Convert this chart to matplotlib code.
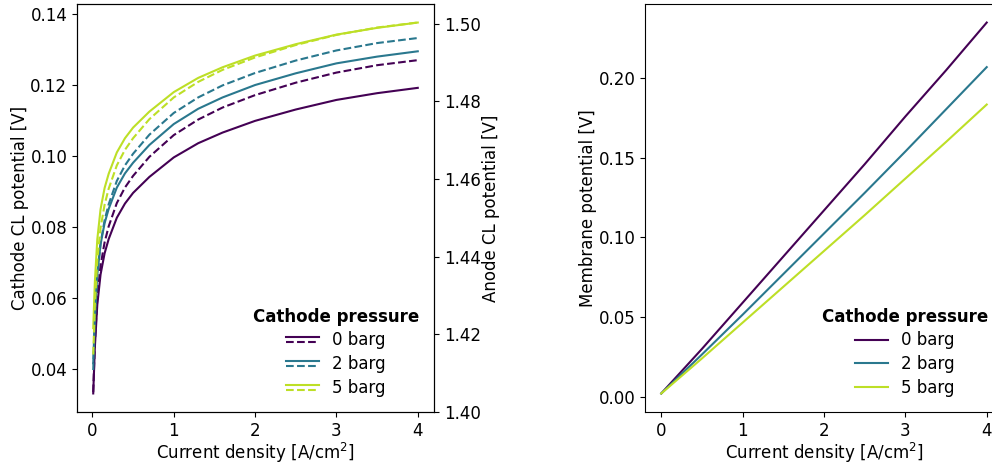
import matplotlib
matplotlib.use("Agg")
import matplotlib.pyplot as plt
from matplotlib.lines import Line2D
from matplotlib.legend_handler import HandlerBase

plt.rcParams['font.family'] = ['DejaVu Sans']
plt.rcParams['font.size'] = 12
plt.rcParams['axes.labelpad'] = 1.2

# ---- data ----
pressures = ["0 barg", "2 barg", "5 barg"]

current = [0.01, 0.03, 0.06, 0.1, 0.15, 0.2, 0.3, 0.4, 0.5, 0.7, 1.0, 1.3, 1.6,
           2.0, 2.5, 3.0, 3.5, 4.0]

cathode_0 = [0.0330, 0.0460, 0.0580, 0.0665, 0.0725, 0.0765, 0.0825, 0.0865, 0.0895,
             0.0940, 0.0995, 0.1035, 0.1065, 0.1098, 0.1130, 0.1157, 0.1176, 0.1191]
cathode_2 = [0.0415, 0.0545, 0.0665, 0.0750, 0.0810, 0.0850, 0.0910, 0.0950, 0.0980,
             0.1030, 0.1089, 0.1132, 0.1164, 0.1199, 0.1232, 0.1260, 0.1279, 0.1294]
cathode_5 = [0.0514, 0.0644, 0.0764, 0.0849, 0.0909, 0.0949, 0.1009, 0.1049, 0.1079,
             0.1124, 0.1179, 0.1219, 0.1249, 0.1282, 0.1314, 0.1341, 0.1360, 0.1375]

anode_0 = [1.4051, 1.4177, 1.4295, 1.4377, 1.4437, 1.4478, 1.4538, 1.4578, 1.4608,
           1.4657, 1.4713, 1.4753, 1.4784, 1.4816, 1.4848, 1.4874, 1.4893, 1.4906]
anode_2 = [1.4108, 1.4234, 1.4352, 1.4434, 1.4494, 1.4535, 1.4595, 1.4635, 1.4665,
           1.4714, 1.4770, 1.4810, 1.4841, 1.4873, 1.4905, 1.4931, 1.4950, 1.4963]
anode_5 = [1.4148, 1.4274, 1.4392, 1.4474, 1.4534, 1.4575, 1.4635, 1.4675, 1.4705,
           1.4754, 1.4810, 1.4850, 1.4881, 1.4913, 1.4945, 1.4971, 1.4990, 1.5003]

current_mem = [0.0, 0.5, 1.0, 1.5, 2.0, 2.5, 3.0, 3.5, 4.0]
membrane_0 = [0.002, 0.030, 0.059, 0.088, 0.117, 0.146, 0.176, 0.205, 0.235]
membrane_2 = [0.002, 0.0265, 0.0515, 0.077, 0.1025, 0.128, 0.154, 0.1805, 0.207]
membrane_5 = [0.002, 0.024, 0.0465, 0.069, 0.0915, 0.114, 0.137, 0.160, 0.1835]

cmap = plt.get_cmap('viridis')
colors = [cmap(0.0), cmap(0.4), cmap(0.9)]


class SolidDashHandler(HandlerBase):
    def create_artists(self, legend, orig_handle, xdescent, ydescent, width,
                       height, fontsize, trans):
        color = orig_handle[0].get_color()
        y = height / 2.0 - ydescent
        x0, x1 = -xdescent, -xdescent + width
        l1 = Line2D([x0, x1], [y + 1.8, y + 1.8], color=color, lw=1.5,
                    ls='-', transform=trans)
        l2 = Line2D([x0, x1], [y - 1.8, y - 1.8], color=color, lw=1.5,
                    ls='--', transform=trans)
        return [l1, l2]


fig = plt.figure(figsize=(9.92, 4.66), dpi=100)
ax1 = fig.add_axes([77 / 992, 54 / 466, 357 / 992, 408 / 466])
ax1b = ax1.twinx()
ax2 = fig.add_axes([645 / 992, 54 / 466, 358 / 992, 408 / 466])

cathodes = [cathode_0, cathode_2, cathode_5]
anodes = [anode_0, anode_2, anode_5]
membranes = [membrane_0, membrane_2, membrane_5]

handles = []
for c, a, col in zip(cathodes, anodes, colors):
    ls, = ax1.plot(current, c, color=col, lw=1.5, ls='-')
    ld, = ax1b.plot(current, a, color=col, lw=1.5, ls='--')
    handles.append((ls, ld))

ax1.set_xlabel('Current density [A/cm$^2$]')
ax1.set_ylabel('Cathode CL potential [V]')
ax1b.set_ylabel('Anode CL potential [V]')
ax1.set_yticks([0.04, 0.06, 0.08, 0.10, 0.12, 0.14])
ax1b.set_yticks([1.40, 1.42, 1.44, 1.46, 1.48, 1.50])
ax1.set_xticks([0, 1, 2, 3, 4])

ax1.legend(handles, pressures, handler_map={tuple: SolidDashHandler()},
           loc='lower right', frameon=False, title='Cathode pressure',
           labelspacing=0.35,
           title_fontproperties={'weight': 'bold', 'size': 12})

mhandles = []
for m, col in zip(membranes, colors):
    l, = ax2.plot(current_mem, m, color=col, lw=1.5)
    mhandles.append(l)
ax2.set_xlabel('Current density [A/cm$^2$]')
ax2.set_ylabel('Membrane potential [V]')
ax2.set_xticks([0, 1, 2, 3, 4])
ax2.set_yticks([0.00, 0.05, 0.10, 0.15, 0.20])
ax2.legend(mhandles, pressures, loc='lower right', frameon=False,
           title='Cathode pressure', labelspacing=0.35,
           title_fontproperties={'weight': 'bold', 'size': 12})

fig.savefig('out.png', dpi=100)
